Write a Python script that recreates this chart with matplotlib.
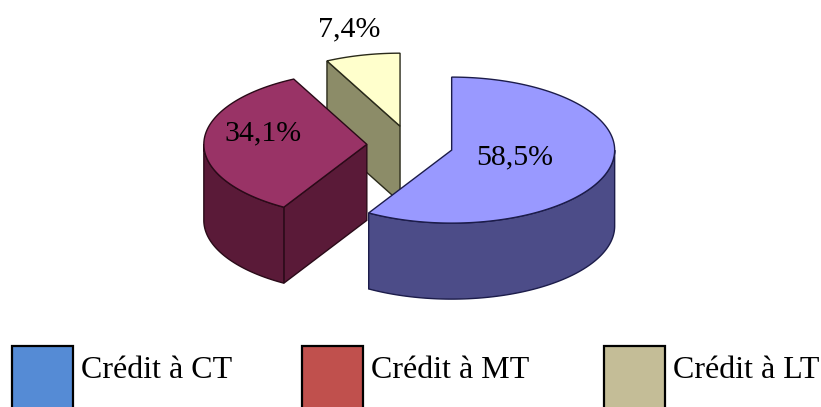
import numpy as np
import matplotlib
matplotlib.use("Agg")
import matplotlib.pyplot as plt
from matplotlib.patches import Polygon, Rectangle

# ---- data ----
categories = ["Crédit à CT", "Crédit à MT", "Crédit à LT"]
values = [58.5, 34.1, 7.4]
labels = ["58,5%", "34,1%", "7,4%"]
top_colors = ["#9999FF", "#993366", "#FFFFCC"]
side_colors = ["#4C4C88", "#5A1A38", "#8C8C68"]
edge_colors = ["#1C1C4A", "#2A0A18", "#2A2A1A"]
legend_colors = ["#558BD5", "#C0504D", "#C4BD97"]

# ---- layout (pixel space) ----
W, H = 821, 407
CX, CY = 410, 145          # pie centre
RX, RY = 163, 73           # ellipse radii
DEPTH = 76                 # extrusion depth
EXPLODE = 0.265
label_k = [0.40, 0.64, 1.36]
label_dy = [0, -9, 0]

fig = plt.figure(figsize=(W / 100, H / 100), dpi=100)
ax = fig.add_axes([0, 0, 1, 1])
ax.set_xlim(0, W)
ax.set_ylim(H, 0)
ax.axis("off")

plt.rcParams["font.family"] = ["Liberation Serif", "DejaVu Serif"]


def pt(c, t, dz=0.0):
    r = np.radians(t)
    return np.column_stack([c[0] + RX * np.sin(r), c[1] - RY * np.cos(r) + dz])


total = sum(values)
angles = np.cumsum([0] + [v / total * 360 for v in values])
slices = []
for i, v in enumerate(values):
    a0, a1 = angles[i], angles[i + 1]
    m = np.radians((a0 + a1) / 2)
    c = (CX + EXPLODE * RX * np.sin(m), CY - EXPLODE * RY * np.cos(m))
    slices.append((i, a0, a1, c))

# draw back to front
order = sorted(slices, key=lambda s: s[3][1])
for i, a0, a1, c in order:
    ec = edge_colors[i]
    # radial faces
    for edge, n in ((a0, a0 - 90), (a1, a1 + 90)):
        if np.cos(np.radians(n)) < -1e-6:
            p = pt(c, np.array([edge]))[0]
            poly = [c, p, (p[0], p[1] + DEPTH), (c[0], c[1] + DEPTH)]
            ax.add_patch(Polygon(poly, closed=True, fc=side_colors[i], ec=ec, lw=1.0, zorder=2))
    # outer side
    s, e = max(a0, 90), min(a1, 270)
    if e > s:
        t = np.linspace(s, e, 120)
        top = pt(c, t)
        bot = pt(c, t[::-1], DEPTH)
        ax.add_patch(Polygon(np.vstack([top, bot]), closed=True, fc=side_colors[i], ec=ec, lw=1.0, zorder=2))
    # top face
    t = np.linspace(a0, a1, 200)
    arc = pt(c, t)
    poly = np.vstack([[c], arc])
    ax.add_patch(Polygon(poly, closed=True, fc=top_colors[i], ec=ec, lw=1.0, zorder=2))

for i, a0, a1, c in slices:
    m = np.radians((a0 + a1) / 2)
    x = c[0] + label_k[i] * RX * np.sin(m)
    y = c[1] - label_k[i] * RY * np.cos(m) + label_dy[i]
    ax.text(x, y, labels[i], ha="center", va="center", fontsize=21.5,
            family=["Liberation Serif", "DejaVu Serif"], zorder=5)

# legend (manual)
leg_x = [12, 302, 604]
for i, name in enumerate(categories):
    ax.add_patch(Rectangle((leg_x[i], 346), 61, 70, fc=legend_colors[i], ec="black",
                           lw=1.6, zorder=3, clip_on=False))
    ax.text(leg_x[i] + 69, 370, name, ha="left", va="center", fontsize=23,
            family=["Liberation Serif", "DejaVu Serif"], zorder=5)

fig.savefig("out.png", dpi=100)
